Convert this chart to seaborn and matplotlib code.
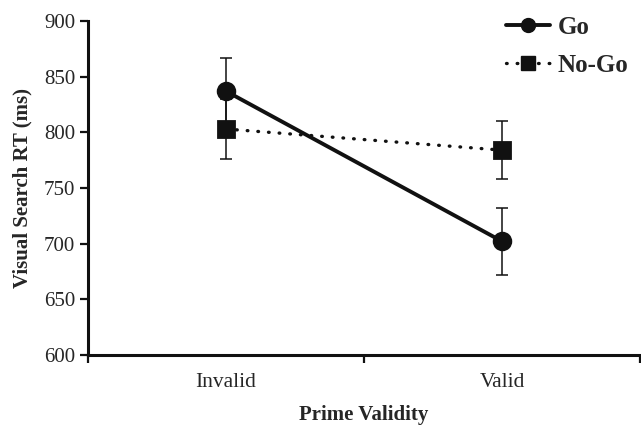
import pandas as pd
import numpy as np
import matplotlib
matplotlib.use('Agg')
import matplotlib.pyplot as plt
import seaborn as sns
from matplotlib.lines import Line2D

# ---------- DATA ----------
validity = ['Invalid', 'Valid']
conditions = ['Go', 'No-Go']
go_rt = [837, 702]
nogo_rt = [803, 784]
go_err = [30, 30]
nogo_err = [27, 26]

df = pd.DataFrame({
    'Prime Validity': validity * 2,
    'Condition': ['Go'] * 2 + ['No-Go'] * 2,
    'RT': go_rt + nogo_rt,
    'err': go_err + nogo_err,
})

# ---------- STYLE ----------
sns.set_theme(style='ticks')
plt.rcParams['font.family'] = ['Liberation Serif', 'DejaVu Serif']

fig = plt.figure(figsize=(6.41, 4.29), dpi=100)
ax = fig.add_axes([0.137, 0.1725, 0.862, 0.7785])

# error bars first (behind markers)
x_pos = {v: i for i, v in enumerate(validity)}
for _, r in df.iterrows():
    ax.errorbar(x_pos[r['Prime Validity']], r['RT'], yerr=r['err'],
                fmt='none', ecolor='#111111', elinewidth=1.1, capsize=4, capthick=1.1, zorder=2)

sns.pointplot(data=df, x='Prime Validity', y='RT', hue='Condition', order=validity,
              hue_order=conditions, errorbar=None, markers=['o', 's'],
              linestyles=['-', ':'], palette=['#111111', '#111111'], ax=ax, legend=False)

# fix line widths / marker sizes
for ln in ax.lines:
    if ln.get_linestyle() == '-':
        ln.set_linewidth(2.8)
        ln.set_markersize(12)
    elif ln.get_linestyle() == ':':
        ln.set_linewidth(2.4)
        ln.set_dashes((0.2, 3.0))
        ln.set_dash_capstyle('round')
        ln.set_markersize(11)
    ln.set_zorder(3)

ax.set_xlim(-0.5, 1.5)
ax.set_ylim(600, 900)
ax.set_yticks(np.arange(600, 901, 50))
ax.set_xticks([-0.5, 0.5, 1.5])
ax.set_xticklabels([])
ax.set_xticks([0, 1], minor=True)
ax.set_xticklabels(validity, minor=True)
ax.tick_params(axis='x', which='minor', length=0, pad=13, labelsize=15.5)
ax.tick_params(axis='x', which='major', length=6, width=1.6, direction='out', color='#111111')
ax.tick_params(axis='y', length=6, width=1.6, direction='out', labelsize=15, color='#111111', pad=3)

for s in ['top', 'right']:
    ax.spines[s].set_visible(False)
for s in ['left', 'bottom']:
    ax.spines[s].set_linewidth(2.2)
    ax.spines[s].set_color('#111111')

ax.set_xlabel('Prime Validity', fontsize=15, fontweight='bold', labelpad=9)
ax.set_ylabel('Visual Search RT (ms)', fontsize=15, fontweight='bold', labelpad=8)

handles = [
    Line2D([], [], color='#111111', lw=2.8, marker='o', markersize=10),
    Line2D([], [], color='#111111', lw=2.4, ls=(0, (0.2, 3.0)), dash_capstyle='round', marker='s', markersize=10),
]
leg = fig.legend(handles, conditions, loc='upper left', bbox_to_anchor=((506 - 10) / 641, 0.986),
                 frameon=False, prop={'weight': 'bold', 'size': 18}, handlelength=1.76,
                 handletextpad=0.3, labelspacing=0.59, borderaxespad=0)

fig.savefig('out.png', dpi=100)
